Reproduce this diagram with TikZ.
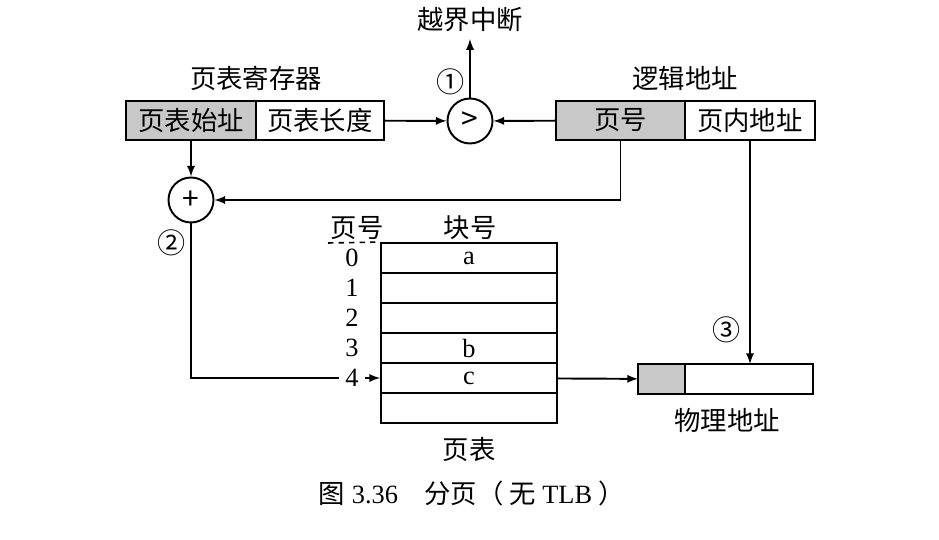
\documentclass[tikz,border=0pt]{standalone}
\usepackage{fontspec}
\setmainfont{Liberation Serif}
\newfontfamily\cjk{Noto Sans CJK SC}
\usepackage{tikz}
\usetikzlibrary{positioning}
\definecolor{fldgray}{RGB}{200,200,200}

\begin{document}
\begin{tikzpicture}[x=0.02cm,y=-0.02cm,>=latex,line width=1.1pt,
  every node/.style={font=\fontsize{15}{18}\selectfont},
  zh/.style={font=\cjk\fontsize{15}{18}\selectfont},
  fld/.style={draw,zh,inner sep=0pt,outer sep=0pt,minimum height=0.78cm},
  row/.style={draw,inner sep=0pt,minimum width=3.52cm,minimum height=0.6cm},
  op/.style={circle,draw,inner sep=0pt,minimum size=0.9cm,font=\cjk\fontsize{17}{20}\selectfont}]
\useasboundingbox (0,0) rectangle (939,540);
% page table register
\node[fld,fill=fldgray,minimum width=2.6cm] (base) at (191,120.5) {页表始址};
\node[fld,minimum width=2.56cm,right=0pt of base] (len) {页表长度};
\node[zh] (reg) at (256,78) {页表寄存器};
% logical address
\node[fld,fill=fldgray,minimum width=2.58cm] (pno) at (620.5,120.5) {页号};
\node[fld,minimum width=2.6cm,right=0pt of pno] (off) {页内地址};
\node[zh] (la) at (685,78) {逻辑地址};
% comparator and adder
\node[op] (cmp) at (470,121) {>};
\node[op] (add) at (191,200) {+};
\node[zh] (trap) at (470,20) {越界中断};
\node[zh,font=\cjk\fontsize{16}{19}\selectfont] (c1) at (451,82) {①};
\node[zh,font=\cjk\fontsize{16}{19}\selectfont] (c2) at (172,243) {②};
\node[zh,font=\cjk\fontsize{16}{19}\selectfont] (c3) at (727,330) {③};
\draw[->] (len) -- (cmp);
\draw[->] (pno) -- (cmp);
\draw[->] (cmp) -- (trap);
\draw[->] (base) -- (add);
\draw[->] (pno.south) |- (add);
% page table
\foreach \i/\v in {0/a,1/,2/,3/b,4/c,5/} {
   \node[row] (r\i) at (469,258+30*\i) {\v};
}
\foreach \i in {0,...,4} {
   \node (n\i) at (352,258+30*\i) {\i};
}
\node[zh] (hpno) at (357,228) {页号};
\node[zh] (hblk) at (470,228) {块号};
\coordinate (dl) at (328,243);
\draw[dashed,line width=0.9pt] (dl) -- (r0.north west);
\node[zh] (tbl) at (469,450) {页表};
\draw (add) |- (n4);
\draw[->] (n4) -- (r4);
% physical address
\node[fld,fill=fldgray,minimum width=0.94cm,minimum height=0.6cm] (pf) at (661.5,379) {};
\node[fld,minimum width=2.56cm,minimum height=0.6cm,right=0pt of pf] (po) {};
\node[zh] (pa) at (727,420) {物理地址};
\draw[->] (r4) -- (pf);
\draw[->] (off.south) -- (off.south |- po.north);
% caption
\node (cap) at (472,493) {{\cjk 图} 3.36\quad{\cjk 分页（ 无} TLB {\cjk ）}};
\end{tikzpicture}
\end{document}
